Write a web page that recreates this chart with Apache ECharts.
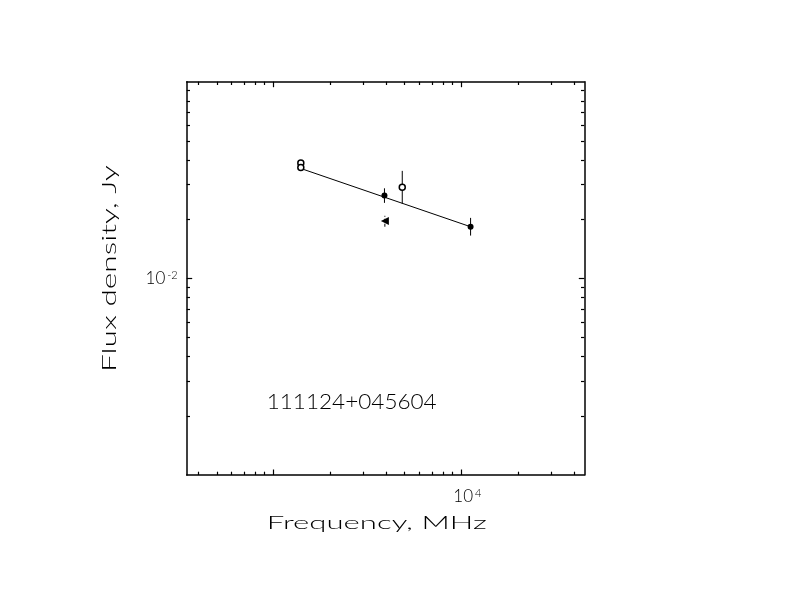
<!DOCTYPE html>
<html>
<head>
<meta charset="utf-8">
<script src="https://cdn.jsdelivr.net/npm/echarts@6/dist/echarts.min.js"></script>
<style>html,body{margin:0;padding:0;background:#fff;}#c{width:792px;height:612px;}</style>
</head>
<body>
<div id="c"></div>
<script>
// ---- data ----
var xRange = [346, 45100];          // MHz
var yRange = [0.001, 0.1];          // Jy
var xMajorTicks = [1000, 10000];
var xMinorTicks = [400, 500, 600, 700, 800, 900, 2000, 3000, 4000, 5000, 6000, 7000, 8000, 9000, 20000, 30000, 40000];
var yMajorTicks = [0.01];
var yMinorTicks = [0.002, 0.003, 0.004, 0.005, 0.006, 0.007, 0.008, 0.009, 0.02, 0.03, 0.04, 0.05, 0.06, 0.07, 0.08, 0.09];
var xLabelTicks = [10000];
var yLabelTicks = [0.01];
var openPoints = [[1400, 0.0386], [1400, 0.0366], [4850, 0.0291]];
var filledPoints = [[3900, 0.0264], [11200, 0.0183]];
var trianglePoints = [[3920, 0.01955]];
var errorBars = [[3900, 0.0242, 0.0287, 0], [3920, 0.0183, 0.0208, 1], [4850, 0.0240, 0.0352, 0], [11200, 0.0165, 0.0203, 0]];
var fitLine = [[1400, 0.0362], [11200, 0.0183]];
var sourceName = '111124+045604';
var xTitle = 'Frequency, MHz';
var yTitle = 'Flux density, Jy';

var FONT = 'Lato';
var W = 300;
var chart = echarts.init(document.getElementById('c'), null, {renderer: 'canvas'});

var mctx = document.createElement('canvas').getContext('2d');
function fitScale(text, size, target) {
  mctx.font = W + ' ' + size + 'px ' + FONT;
  return target / mctx.measureText(text).width;
}

function supLabel(v) {
  var e = Math.round(Math.log10(v));
  return '{b|10}{s|' + e + '}';
}
function richLab(padLeft) {
  return {
    b: {fontFamily: FONT, fontWeight: W, fontSize: 17, color: '#000', lineHeight: 17, verticalAlign: 'bottom', padding: [0, 0, 0, padLeft]},
    s: {fontFamily: FONT, fontWeight: W, fontSize: 11, color: '#000', lineHeight: 17, verticalAlign: 'top', padding: [0, 0, 0, 2]}
  };
}

function mkX(pos, ticks, len, showLine, labels) {
  return {
    type: 'log', logBase: 10, min: xRange[0], max: xRange[1], position: pos,
    axisLine: {show: showLine, onZero: false, lineStyle: {color: '#000', width: 1.5}},
    axisTick: {show: true, inside: true, length: len, customValues: ticks, lineStyle: {color: '#000', width: 1.2}},
    axisLabel: labels ? {show: true, customValues: labels, margin: 13, formatter: supLabel, rich: richLab(12)} : {show: false},
    splitLine: {show: false}, minorTick: {show: false}, minorSplitLine: {show: false}
  };
}
function mkY(pos, ticks, len, showLine, labels) {
  return {
    type: 'log', logBase: 10, min: yRange[0], max: yRange[1], position: pos,
    axisLine: {show: showLine, onZero: false, lineStyle: {color: '#000', width: 1.5}},
    axisTick: {show: true, inside: true, length: len, customValues: ticks, lineStyle: {color: '#000', width: 1.2}},
    axisLabel: labels ? {show: true, customValues: labels, margin: 9, formatter: supLabel, rich: richLab(0)} : {show: false},
    splitLine: {show: false}, minorTick: {show: false}, minorSplitLine: {show: false}
  };
}

var option = {
  animation: false,
  backgroundColor: '#fff',
  grid: {left: 186.7, right: 207.7, top: 81.7, bottom: 137, containLabel: false},
  xAxis: [
    mkX('bottom', xMinorTicks, 3.3, true, null),
    mkX('bottom', xMajorTicks, 5.5, false, xLabelTicks),
    mkX('top', xMinorTicks, 3.3, true, null),
    mkX('top', xMajorTicks, 5.5, false, null)
  ],
  yAxis: [
    mkY('left', yMinorTicks, 3.3, true, null),
    mkY('left', yMajorTicks, 5.5, false, yLabelTicks),
    mkY('right', yMinorTicks, 3.3, true, null),
    mkY('right', yMajorTicks, 5.5, false, null)
  ],
  series: [
    {
      type: 'line', data: fitLine, symbol: 'none', z: 2,
      lineStyle: {color: '#000', width: 1}
    },
    {
      type: 'custom', z: 3, data: errorBars,
      renderItem: function (params, api) {
        var x = api.value(0);
        var p1 = api.coord([x, api.value(1)]);
        var p2 = api.coord([x, api.value(2)]);
        return {
          type: 'line',
          shape: {x1: p1[0], y1: p1[1], x2: p2[0], y2: p2[1]},
          style: {stroke: '#000', lineWidth: 1, lineDash: api.value(3) ? [3, 2] : null}
        };
      }
    },
    {
      type: 'scatter', data: openPoints, z: 5, symbol: 'circle', symbolSize: 6,
      itemStyle: {color: '#fff', borderColor: '#000', borderWidth: 1.5, opacity: 1}
    },
    {
      type: 'scatter', data: filledPoints, z: 5, symbol: 'circle', symbolSize: 6,
      itemStyle: {color: '#000', borderColor: '#000', borderWidth: 0, opacity: 1}
    },
    {
      type: 'scatter', data: trianglePoints, z: 5, symbol: 'triangle', symbolSize: 8, symbolRotate: 90,
      itemStyle: {color: '#000', opacity: 1}
    }
  ],
  graphic: [
    {
      type: 'text', x: 376.7, y: 523.5, scaleX: fitScale(xTitle, 18, 220), silent: true,
      style: {text: xTitle, font: W + ' 18px ' + FONT, fill: '#000', align: 'center', verticalAlign: 'middle'}
    },
    {
      type: 'text', x: 109.5, y: 268.5, rotation: Math.PI / 2, scaleX: fitScale(yTitle, 19, 207), silent: true,
      style: {text: yTitle, font: W + ' 19px ' + FONT, fill: '#000', align: 'center', verticalAlign: 'middle'}
    },
    {
      type: 'text', x: 266.7, y: 402.5, scaleX: fitScale(sourceName, 21, 170), silent: true,
      style: {text: sourceName, font: W + ' 21px ' + FONT, fill: '#000', align: 'left', verticalAlign: 'middle'}
    }
  ]
};
chart.setOption(option);
</script>
</body>
</html>
